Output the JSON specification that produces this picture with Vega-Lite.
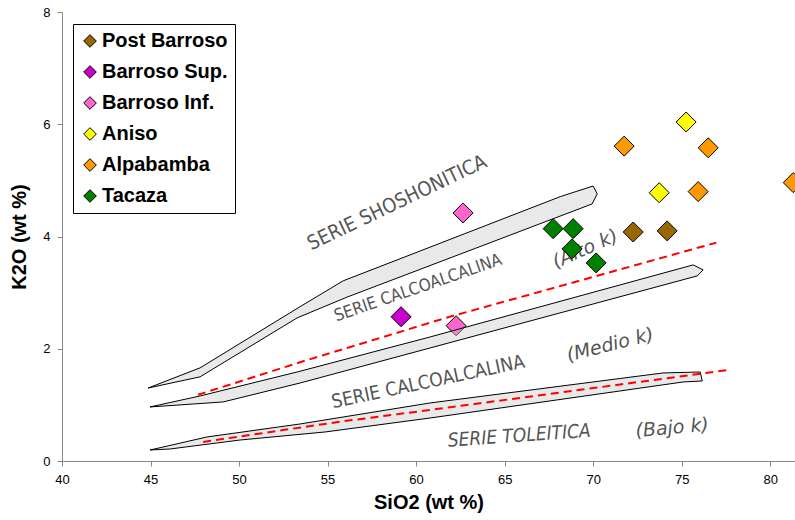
{
  "$schema": "https://vega.github.io/schema/vega-lite/v6.json",
  "width": 733,
  "height": 449,
  "autosize": {"type": "none"},
  "padding": {"left": 62, "top": 12, "right": 0, "bottom": 59},
  "background": "white",
  "config": {"view": {"stroke": null}, "font": "Liberation Sans"},
  "datasets": {
    "bands": [
      {"band": "b1", "SiO2": 44.86, "K2O": 1.30},
      {"band": "b1", "SiO2": 47.80, "K2O": 1.66},
      {"band": "b1", "SiO2": 53.45, "K2O": 2.75},
      {"band": "b1", "SiO2": 55.88, "K2O": 3.21},
      {"band": "b1", "SiO2": 68.14, "K2O": 4.71},
      {"band": "b1", "SiO2": 70.00, "K2O": 4.90},
      {"band": "b1", "SiO2": 70.23, "K2O": 4.76},
      {"band": "b1", "SiO2": 69.94, "K2O": 4.58},
      {"band": "b1", "SiO2": 56.10, "K2O": 2.92},
      {"band": "b1", "SiO2": 53.28, "K2O": 2.55},
      {"band": "b1", "SiO2": 47.80, "K2O": 1.50},
      {"band": "b1", "SiO2": 44.86, "K2O": 1.30},
      {"band": "b2", "SiO2": 44.97, "K2O": 0.963},
      {"band": "b2", "SiO2": 47.80, "K2O": 1.159},
      {"band": "b2", "SiO2": 53.28, "K2O": 1.586},
      {"band": "b2", "SiO2": 60.79, "K2O": 2.210},
      {"band": "b2", "SiO2": 75.65, "K2O": 3.494},
      {"band": "b2", "SiO2": 76.21, "K2O": 3.405},
      {"band": "b2", "SiO2": 75.88, "K2O": 3.298},
      {"band": "b2", "SiO2": 60.79, "K2O": 2.014},
      {"band": "b2", "SiO2": 53.45, "K2O": 1.390},
      {"band": "b2", "SiO2": 49.10, "K2O": 1.052},
      {"band": "b2", "SiO2": 44.97, "K2O": 0.963},
      {"band": "b3", "SiO2": 44.97, "K2O": 0.196},
      {"band": "b3", "SiO2": 48.19, "K2O": 0.428},
      {"band": "b3", "SiO2": 53.45, "K2O": 0.660},
      {"band": "b3", "SiO2": 60.79, "K2O": 1.034},
      {"band": "b3", "SiO2": 73.95, "K2O": 1.569},
      {"band": "b3", "SiO2": 76.05, "K2O": 1.586},
      {"band": "b3", "SiO2": 76.16, "K2O": 1.426},
      {"band": "b3", "SiO2": 75.08, "K2O": 1.408},
      {"band": "b3", "SiO2": 60.79, "K2O": 0.766},
      {"band": "b3", "SiO2": 54.86, "K2O": 0.517},
      {"band": "b3", "SiO2": 50.06, "K2O": 0.374},
      {"band": "b3", "SiO2": 46.10, "K2O": 0.214},
      {"band": "b3", "SiO2": 44.97, "K2O": 0.196}
    ],
    "limits": [
      {"line": "r1", "SiO2": 47.68, "K2O": 1.18},
      {"line": "r1", "SiO2": 53.45, "K2O": 1.76},
      {"line": "r1", "SiO2": 61.90, "K2O": 2.57},
      {"line": "r1", "SiO2": 70.80, "K2O": 3.35},
      {"line": "r1", "SiO2": 76.95, "K2O": 3.89},
      {"line": "r2", "SiO2": 47.97, "K2O": 0.34},
      {"line": "r2", "SiO2": 55.70, "K2O": 0.70},
      {"line": "r2", "SiO2": 60.80, "K2O": 0.91},
      {"line": "r2", "SiO2": 77.60, "K2O": 1.62}
    ],
    "samples": [
      {"grp": "Post Barroso", "SiO2": 72.26, "K2O": 4.08},
      {"grp": "Post Barroso", "SiO2": 74.18, "K2O": 4.10},
      {"grp": "Barroso Sup.", "SiO2": 59.15, "K2O": 2.57},
      {"grp": "Barroso Inf.", "SiO2": 62.65, "K2O": 4.42},
      {"grp": "Barroso Inf.", "SiO2": 62.26, "K2O": 2.41},
      {"grp": "Aniso", "SiO2": 75.25, "K2O": 6.04},
      {"grp": "Aniso", "SiO2": 73.73, "K2O": 4.78},
      {"grp": "Alpabamba", "SiO2": 71.75, "K2O": 5.61},
      {"grp": "Alpabamba", "SiO2": 76.50, "K2O": 5.58},
      {"grp": "Alpabamba", "SiO2": 75.93, "K2O": 4.80},
      {"grp": "Alpabamba", "SiO2": 81.30, "K2O": 4.96},
      {"grp": "Tacaza", "SiO2": 67.74, "K2O": 4.14},
      {"grp": "Tacaza", "SiO2": 68.87, "K2O": 4.14},
      {"grp": "Tacaza", "SiO2": 68.81, "K2O": 3.78},
      {"grp": "Tacaza", "SiO2": 70.17, "K2O": 3.53}
    ]
  },
  "encoding": {
    "x": {
      "field": "SiO2", "type": "quantitative",
      "scale": {"domain": [40, 81.4], "nice": false, "zero": false},
      "axis": {
        "title": "SiO2 (wt %)", "values": [40, 45, 50, 55, 60, 65, 70, 75, 80],
        "grid": false, "domainColor": "#868686", "tickColor": "#868686", "tickSize": 5,
        "labelFont": "Liberation Sans", "labelFontSize": 13, "labelColor": "black", "labelPadding": 7,
        "labelFlush": false,
        "titleFont": "Liberation Sans", "titleFontSize": 20, "titleFontWeight": "bold", "titleColor": "black", "titlePadding": 6
      }
    },
    "y": {
      "field": "K2O", "type": "quantitative",
      "scale": {"domain": [0, 8], "nice": false},
      "axis": {
        "title": "K2O (wt %)", "values": [0, 2, 4, 6, 8],
        "grid": false, "domainColor": "#868686", "tickColor": "#868686", "tickSize": 5,
        "labelFont": "Liberation Sans", "labelFontSize": 13, "labelColor": "black", "labelPadding": 7,
        "labelFlush": false,
        "titleFont": "Liberation Sans", "titleFontSize": 20, "titleFontWeight": "bold", "titleColor": "black", "titlePadding": 13
      }
    }
  },
  "layer": [
    {
      "data": {"values": [{"label": "SERIE SHOSHONITICA", "SiO2": 58.93, "K2O": 4.60}]},
      "mark": {"type": "text", "angle": -25.5, "fontSize": 20, "font": "Liberation Sans Narrow, DejaVu Sans Condensed, Liberation Sans", "color": "#555555"},
      "encoding": {"text": {"field": "label"}}
    },
    {
      "data": {"values": [{"label": "SERIE CALCOALCALINA", "SiO2": 60.11, "K2O": 3.08}]},
      "mark": {"type": "text", "angle": -19, "fontSize": 17, "font": "Liberation Sans Narrow, DejaVu Sans Condensed, Liberation Sans", "color": "#555555"},
      "encoding": {"text": {"field": "label"}}
    },
    {
      "data": {"values": [{"label": "(Alto k)", "SiO2": 69.55, "K2O": 3.78}]},
      "mark": {"type": "text", "angle": -24, "fontSize": 19, "fontStyle": "italic", "font": "DejaVu Sans", "color": "#555555"},
      "encoding": {"text": {"field": "label"}}
    },
    {
      "data": {"values": [{"label": "SERIE CALCOALCALINA", "SiO2": 60.68, "K2O": 1.41}]},
      "mark": {"type": "text", "angle": -12, "fontSize": 19, "font": "Liberation Sans Narrow, DejaVu Sans Condensed, Liberation Sans", "color": "#555555"},
      "encoding": {"text": {"field": "label"}}
    },
    {
      "data": {"values": [{"label": "(Medio k)", "SiO2": 70.96, "K2O": 2.07}]},
      "mark": {"type": "text", "angle": -14, "fontSize": 19, "fontStyle": "italic", "font": "DejaVu Sans", "color": "#555555"},
      "encoding": {"text": {"field": "label"}}
    },
    {
      "data": {"values": [{"label": "SERIE TOLEITICA", "SiO2": 65.82, "K2O": 0.45}]},
      "mark": {"type": "text", "angle": -4, "fontSize": 19, "fontStyle": "italic", "font": "Liberation Sans Narrow, DejaVu Sans Condensed, Liberation Sans", "color": "#555555"},
      "encoding": {"text": {"field": "label"}}
    },
    {
      "data": {"values": [{"label": "(Bajo k)", "SiO2": 74.46, "K2O": 0.59}]},
      "mark": {"type": "text", "angle": -5, "fontSize": 19, "fontStyle": "italic", "font": "DejaVu Sans", "color": "#555555"},
      "encoding": {"text": {"field": "label"}}
    },
    {
      "data": {"name": "samples"},
      "mark": {"type": "point", "shape": "diamond", "filled": true, "size": 400, "stroke": "black", "strokeWidth": 1, "opacity": 1},
      "encoding": {
        "color": {
          "field": "grp", "type": "nominal",
          "scale": {
            "domain": ["Post Barroso", "Barroso Sup.", "Barroso Inf.", "Aniso", "Alpabamba", "Tacaza"],
            "range": ["#996600", "#CC00CC", "#FF66CC", "#FFFF00", "#FF9900", "#008000"]
          },
          "legend": {
            "title": null, "orient": "none", "legendX": 11, "legendY": 12,
            "strokeColor": "black", "fillColor": "white", "padding": 7,
            "labelFont": "Liberation Sans", "labelFontSize": 20, "labelFontWeight": "bold", "labelColor": "black",
            "symbolType": "diamond", "symbolSize": 160, "symbolStrokeColor": "black", "symbolStrokeWidth": 1,
            "rowPadding": 11, "labelOffset": 2
          }
        }
      }
    },
    {
      "data": {"name": "bands"},
      "mark": {"type": "line", "fill": "#C8C8C8", "fillOpacity": 0.4, "stroke": "black", "strokeWidth": 1},
      "encoding": {"detail": {"field": "band"}, "order": {"value": null}}
    },
    {
      "data": {"name": "limits"},
      "mark": {"type": "line", "stroke": "#FF0000", "strokeWidth": 2, "strokeDash": [8, 5]},
      "encoding": {"detail": {"field": "line"}}
    },
    {
      "data": {"values": [{}]},
      "mark": {"type": "rule", "color": "#868686"},
      "encoding": {"x": {"datum": 40}, "x2": {"datum": 81.4}, "y": {"datum": 8}}
    }
  ]
}
